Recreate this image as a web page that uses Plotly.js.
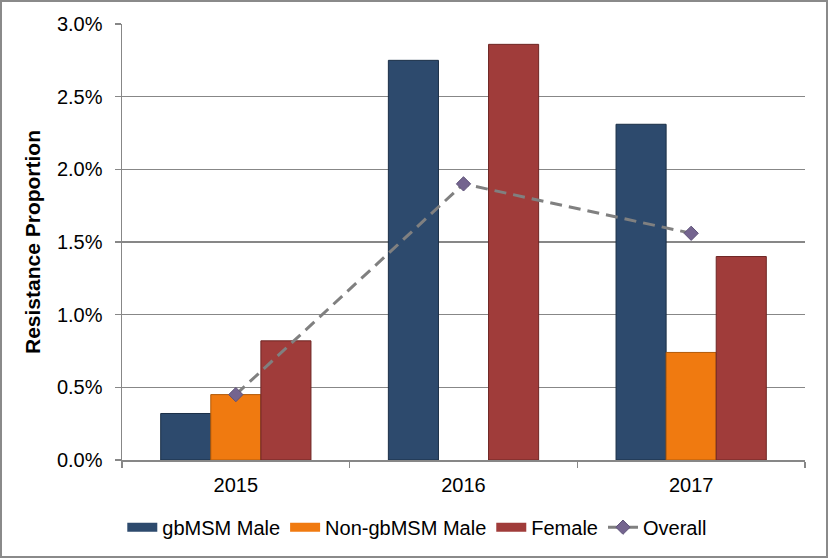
<!DOCTYPE html>
<html>
<head>
<meta charset="utf-8">
<script src="https://cdn.plot.ly/plotly-3.0.1.min.js"></script>
<style>
html,body{margin:0;padding:0;background:#fff;}
#wrap{width:828px;height:558px;box-sizing:border-box;border:2px solid #8a8a8a;}
#chart{width:824px;height:554px;}
</style>
</head>
<body>
<div id="wrap"><div id="chart"></div></div>
<script>
const years = ['2015', '2016', '2017'];
const gbmsmMale = [0.0032, 0.0275, 0.0231];
const nonGbmsmMale = [0.0045, null, 0.0074];
const female = [0.0082, 0.0286, 0.0140];
const overall = [0.0045, 0.0190, 0.0156];

const seriesNames = ['gbMSM Male', 'Non-gbMSM Male', 'Female', 'Overall'];
const barColors = ['#2D4A6D', '#F07A10', '#A03C3A'];
const barEdges = ['#1B2F47', '#B25A08', '#6E2624'];

const font = {family: 'Arial, "Liberation Sans", sans-serif', color: '#000'};
const barSeries = [gbmsmMale, nonGbmsmMale, female];

const traces = [];
barSeries.forEach((vals, i) => {
  traces.push({type: 'bar', name: seriesNames[i], x: years, y: vals, showlegend: false,
    legendgroup: 'g' + i,
    marker: {color: barColors[i], line: {color: barEdges[i], width: 1}}});
});
// legend entries drawn as wide bars (line-style legend symbols)
barSeries.forEach((vals, i) => {
  traces.push({type: 'scatter', mode: 'lines', name: seriesNames[i], x: [null], y: [null],
    legendgroup: 'g' + i, showlegend: true, hoverinfo: 'skip',
    line: {color: barColors[i], width: 9}});
});
traces.push({type: 'scatter', mode: 'lines+markers', name: seriesNames[3], x: years, y: overall,
   line: {color: '#808080', width: 3, dash: '12px,7px'},
   marker: {symbol: 'diamond', size: 11, color: '#74648F', line: {color: '#5E5278', width: 1}}});

const layout = {
  width: 824, height: 554,
  margin: {l: 120, r: 21, t: 22, b: 96},
  paper_bgcolor: '#fff', plot_bgcolor: '#fff',
  font: Object.assign({size: 20}, font),
  barmode: 'group', bargap: 0.34, bargroupgap: 0,
  showlegend: true,
  legend: {orientation: 'h', xref: 'container', yref: 'container', x: 0.504, xanchor: 'center',
           y: 0.052, yanchor: 'middle', font: Object.assign({size: 20}, font),
           traceorder: 'normal'},
  xaxis: {type: 'category', showline: true, linecolor: '#878787', linewidth: 1.5,
          ticks: 'outside', tickson: 'boundaries', ticklen: 6, tickcolor: '#878787', tickwidth: 1.5,
          ticklabelstandoff: 6,
          showgrid: false, tickfont: Object.assign({size: 20}, font)},
  yaxis: {range: [0, 0.03], dtick: 0.005, tickformat: '.1%', showline: true, linecolor: '#878787',
          linewidth: 1.5, ticks: 'outside', ticklen: 6, tickcolor: '#878787', tickwidth: 1.5,
          ticklabelstandoff: 8,
          showgrid: true, gridcolor: '#878787', gridwidth: 1.5, zeroline: false,
          tickfont: Object.assign({size: 20}, font),
          title: {text: '<b>Resistance Proportion</b>', standoff: 10, font: Object.assign({size: 21}, font)}}
};

Plotly.newPlot('chart', traces, layout, {displayModeBar: false, staticPlot: true});
</script>
</body>
</html>
